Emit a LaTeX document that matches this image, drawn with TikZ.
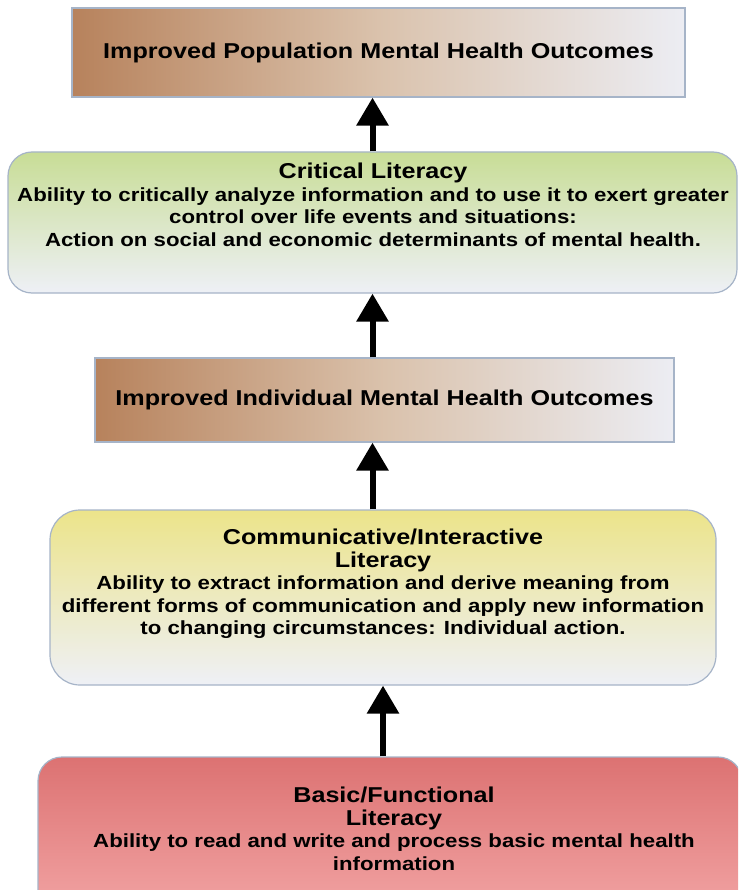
\documentclass[tikz,border=0pt]{standalone}
\usepackage{fontspec}
\setmainfont{Liberation Sans}[FakeStretch=1.17]
\usetikzlibrary{arrows.meta}
\definecolor{OutBrown}{RGB}{183,130,92}
\definecolor{OutTan}{RGB}{218,194,172}
\definecolor{OutPale}{RGB}{236,237,243}
\definecolor{CritGreen}{RGB}{200,221,150}
\definecolor{CommYellow}{RGB}{236,228,138}
\definecolor{BoxPale}{RGB}{238,240,246}
\definecolor{BasicRed}{RGB}{220,114,114}
\definecolor{BasicPink}{RGB}{243,166,166}
\definecolor{EdgeBlue}{RGB}{166,180,200}
\newcommand{\litHead}{\fontsize{21.5}{25}\selectfont}

\begin{document}
\begin{tikzpicture}[x=1pt,y=-1pt,
    outbox/.style={draw=EdgeBlue,line width=1.2pt,left color=OutBrown,
                   right color=OutPale,middle color=OutTan,inner sep=0pt,
                   font=\bfseries\litHead},
    litbox/.style={draw=EdgeBlue,line width=1.2pt,rounded corners=24pt,inner sep=0pt},
    lit/.style={align=center,inner sep=0pt,font=\bfseries\fontsize{19}{22.5}\selectfont},
    arr/.style={line width=6pt,-{Triangle[width=31pt,length=28pt]}}
  ]
  \useasboundingbox (0,0) rectangle (738,890);
  \fill[white] (0,0) rectangle (738,890);
  \clip (0,0) rectangle (738,890);

  \node[outbox,minimum width=613pt,minimum height=89pt] (pop) at (378.5,52.5)
    {Improved Population Mental Health Outcomes};
  \node[litbox,top color=CritGreen,bottom color=BoxPale,
        minimum width=729pt,minimum height=141pt] (crit) at (372.5,222.5) {};
  \node[outbox,minimum width=579pt,minimum height=84pt] (indiv) at (384.5,400)
    {Improved Individual Mental Health Outcomes};
  \node[litbox,rounded corners=30pt,top color=CommYellow,bottom color=BoxPale,
        minimum width=666pt,minimum height=175pt] (comm) at (383,597.5) {};
  \node[litbox,top color=BasicRed,bottom color=BasicPink,
        minimum width=704pt,minimum height=163pt] (basic) at (390,838.5) {};

  \node[lit] (critT) at (373,205) {{\litHead Critical Literacy}\\
    Ability to critically analyze information and to use it to exert greater\\
    control over life events and situations:\\
    Action on social and economic determinants of mental health.};
  \node[lit] (commT) at (383,584) {{\litHead Communicative/Interactive}\\
    {\litHead Literacy}\\
    Ability to extract information and derive meaning from\\
    different forms of communication and apply new information\\
    to changing circumstances: Individual action.};
  \node[lit] (basicT) at (394,829) {{\litHead Basic/Functional}\\
    {\litHead Literacy}\\
    Ability to read and write and process basic mental health\\
    information};

  \draw[arr] (crit.north) -- (crit.north |- pop.south);
  \draw[arr] (indiv.north -| crit.south) -- (crit.south);
  \draw[arr] (comm.north -| crit.south) -- (indiv.south -| crit.south);
  \draw[arr] (basic.north -| comm.south) -- (comm.south);
\end{tikzpicture}
\end{document}
